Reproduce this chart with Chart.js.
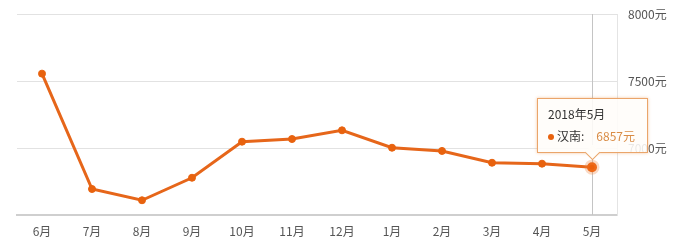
<!DOCTYPE html>
<html>
<head>
<meta charset="utf-8">
<script src="https://cdn.jsdelivr.net/npm/chart.js@4"></script>
<style>
  html, body { margin: 0; padding: 0; background: #fff; }
  #wrap { position: relative; width: 693px; height: 240px; }
  #tip {
    position: absolute;
    box-sizing: border-box;
    width: 111px;
    height: 55px;
    padding: 6px 0 0 10px;
    background: rgba(255, 253, 249, 0.88);
    border: 1px solid #eaa56a;
    box-shadow: 0 0 3px rgba(235, 130, 50, 0.45);
    font-family: "Noto Sans CJK SC", "Noto Sans", sans-serif;
    font-size: 12px;
    color: #333;
    pointer-events: none;
  }
  #tip .t { line-height: 18px; }
  #tip .r { line-height: 18px; margin-top: 4px; }
  #tip .dot { display: inline-block; width: 6px; height: 6px; border-radius: 50%; background: #e8620e; margin-right: 3px; vertical-align: 1px; }
  #tip .v { color: #d98c45; margin-left: 12px; }
  #tip:after {
    content: ""; position: absolute; left: 50%; bottom: -6px; margin-left: -6px;
    width: 10px; height: 10px; background: rgba(255, 253, 249, 1);
    border-right: 1px solid #eaa56a; border-bottom: 1px solid #eaa56a;
    transform: rotate(45deg); transform-origin: center; top: auto;
  }
</style>
</head>
<body>
<div id="wrap">
  <canvas id="c" width="693" height="240"></canvas>
  <div id="tip"></div>
</div>
<script>
const months = ["6月", "7月", "8月", "9月", "10月", "11月", "12月", "1月", "2月", "3月", "4月", "5月"];
const periods = ["2017年6月", "2017年7月", "2017年8月", "2017年9月", "2017年10月", "2017年11月",
  "2017年12月", "2018年1月", "2018年2月", "2018年3月", "2018年4月", "2018年5月"];
const prices = [7555, 6694, 6610, 6778, 7047, 7067, 7132, 7002, 6978, 6890, 6883, 6857];
const yTicks = [6500, 7000, 7500, 8000];
const seriesName = "汉南";
const activeIndex = 11;

const font = { family: "'Noto Sans CJK SC', 'Noto Sans', sans-serif", size: 12 };

// vertical guide line through the hovered month
const crosshair = {
  id: "crosshair",
  beforeDatasetsDraw(chart) {
    const act = chart.getActiveElements();
    if (!act.length) return;
    const x = act[0].element.x;
    const { top, bottom } = chart.chartArea;
    const ctx = chart.ctx;
    ctx.save();
    ctx.strokeStyle = "#c4c4c4";
    ctx.lineWidth = 1;
    ctx.beginPath();
    ctx.moveTo(Math.round(x) + 0.5, top);
    ctx.lineTo(Math.round(x) + 0.5, bottom);
    ctx.stroke();
    ctx.restore();
  }
};

function externalTip(context) {
  const tip = document.getElementById("tip");
  const t = context.tooltip;
  if (t.opacity === 0 || !t.dataPoints || !t.dataPoints.length) {
    tip.style.display = "none";
    return;
  }
  const i = t.dataPoints[0].dataIndex;
  tip.innerHTML =
    '<div class="t">' + periods[i] + '</div>' +
    '<div class="r"><span class="dot"></span>' + seriesName + ':<span class="v">' + prices[i] + '元</span></div>';
  tip.style.display = "block";
  tip.style.left = Math.round(t.caretX - 111 / 2) + "px";
  tip.style.top = Math.round(t.caretY - 55 - 14) + "px";
}

const chart = new Chart(document.getElementById("c"), {
  type: "line",
  data: {
    labels: months,
    datasets: [{
      label: seriesName,
      data: prices,
      borderColor: "#e6661a",
      borderWidth: 3,
      backgroundColor: "#e8620e",
      pointBackgroundColor: "#e8620e",
      pointBorderColor: "#e8620e",
      pointRadius: 3.5,
      pointBorderWidth: 1,
      pointHoverRadius: 5,
      pointHoverBorderWidth: 5,
      pointHoverBackgroundColor: "#ec5f0a",
      pointHoverBorderColor: "rgba(240, 130, 60, 0.3)",
      tension: 0
    }]
  },
  options: {
    responsive: false,
    animation: false,
    events: [],
    layout: { padding: { left: 17, top: 14, right: 0, bottom: 0 } },
    plugins: {
      legend: { display: false },
      tooltip: { enabled: false, external: externalTip }
    },
    scales: {
      x: {
        offset: true,
        grid: { display: false, drawTicks: false },
        border: { display: true, color: "#cfcfcf", width: 2 },
        ticks: { color: "#555", font: font, padding: 9, maxRotation: 0 },
        afterFit(s) { s.height = 25; s.paddingLeft = 0; s.paddingRight = 0; }
      },
      y: {
        position: "right",
        min: yTicks[0],
        max: yTicks[yTicks.length - 1],
        afterBuildTicks(s) { s.ticks = yTicks.map(v => ({ value: v })); },
        grid: { color: "#e2e2e2", drawTicks: false },
        border: { display: true, color: "#e4e4e4", width: 1 },
        ticks: {
          color: "#555",
          font: font,
          padding: 11,
          callback: v => (v === yTicks[0] ? "" : v + "元")
        },
        afterFit(s) { s.width = 76; s.paddingTop = 0; s.paddingBottom = 0; }
      }
    }
  },
  plugins: [crosshair]
});

const el = chart.getDatasetMeta(0).data[activeIndex];
chart.setActiveElements([{ datasetIndex: 0, index: activeIndex }]);
chart.tooltip.setActiveElements([{ datasetIndex: 0, index: activeIndex }], { x: el.x, y: el.y });
chart.update();
</script>
</body>
</html>
